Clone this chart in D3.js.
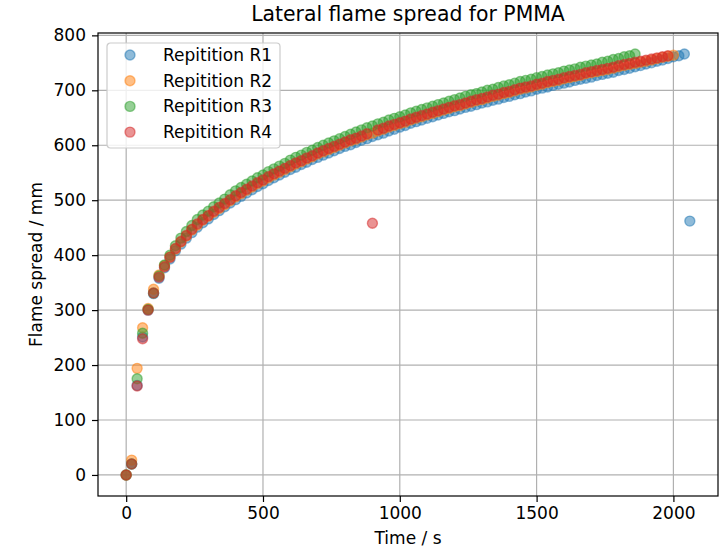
<!DOCTYPE html>
<html>
  <head>
    <meta charset="utf-8" />
    <title>Lateral flame spread for PMMA</title>
    <script src="https://cdn.jsdelivr.net/npm/d3@7"></script>
    <style type="text/css">
      body { margin: 0; background: #fff; }
      svg { font-family: "DejaVu Sans", sans-serif; }
      .tick text { font-size: 17px; fill: #000; }
    </style>
  </head>

  <body>
    <svg id="chart" width="719" height="548"></svg>
    <script type="text/javascript">
      // sample times (s), shared by all repetitions
      var timeS = [0, 20, 40, 60, 80, 100, 120, 140, 160, 180,
        200, 220, 240, 260, 280, 300, 320, 340, 360, 380,
        400, 420, 440, 460, 480, 500, 520, 540, 560, 580,
        600, 620, 640, 660, 680, 700, 720, 740, 760, 780,
        800, 820, 840, 860, 880, 900, 920, 940, 960, 980,
        1000, 1020, 1040, 1060, 1080, 1100, 1120, 1140, 1160, 1180,
        1200, 1220, 1240, 1260, 1280, 1300, 1320, 1340, 1360, 1380,
        1400, 1420, 1440, 1460, 1480, 1500, 1520, 1540, 1560, 1580,
        1600, 1620, 1640, 1660, 1680, 1700, 1720, 1740, 1760, 1780,
        1800, 1820, 1840, 1860, 1880, 1900, 1920, 1940, 1960, 1980,
        2000, 2020, 2040, 2060];

      // flame spread (mm) per repetition
      var spreadR1 = [0, 20, 163, 251, 300, 330, 358, 377, 393, 408,
        420, 431, 441, 451, 459, 466, 474, 481, 488, 495,
        501, 507, 513, 519, 525, 530, 536, 541, 546, 551,
        556, 560, 565, 569, 574, 578, 582, 586, 590, 594,
        598, 601, 605, 609, 612, 616, 619, 622, 626, 629,
        633, 636, 640, 643, 646, 649, 652, 655, 658, 661,
        663, 666, 669, 671, 674, 677, 679, 682, 684, 687,
        689, 692, 694, 697, 699, 702, 704, 706, 709, 711,
        713, 715, 718, 720, 722, 724, 727, 729, 731, 733,
        736, 738, 740, 743, 745, 748, 750, 753, 755, 758,
        761, 763, 766, 462];
      var spreadR2 = [0, 27, 194, 268, 303, 338, 364, 381, 397, 411,
        424, 435, 446, 455, 464, 471, 478, 485, 492, 499,
        506, 512, 518, 524, 530, 535, 541, 546, 551, 556,
        561, 566, 570, 575, 579, 584, 588, 592, 596, 600,
        604, 608, 611, 615, 619, 622, 626, 629, 633, 636,
        639, 642, 646, 649, 652, 655, 658, 661, 664, 667,
        670, 672, 675, 678, 681, 683, 686, 689, 691, 694,
        696, 699, 702, 704, 706, 709, 711, 714, 716, 718,
        721, 723, 725, 727, 730, 732, 734, 736, 738, 740,
        743, 745, 747, 749, 751, 753, 755, 758, 760, 762,
        764];
      var spreadR3 = [0, 20, 175, 258, 301, 331, 362, 382, 400, 417,
        431, 443, 454, 465, 473, 480, 488, 495, 502, 510,
        517, 523, 529, 535, 541, 546, 552, 557, 562, 567,
        573, 578, 582, 587, 591, 596, 600, 604, 608, 612,
        616, 620, 624, 628, 632, 635, 639, 642, 646, 649,
        652, 655, 659, 662, 665, 668, 671, 674, 677, 680,
        683, 686, 689, 692, 694, 697, 700, 702, 705, 708,
        710, 713, 716, 718, 720, 723, 725, 728, 730, 732,
        735, 737, 739, 742, 744, 746, 748, 751, 753, 756,
        758, 761, 763, 766];
      var spreadR4 = [0, 20, 162, 248, 300, 331, 360, 379, 396, 412,
        425, 436, 447, 457, 465, 472, 480, 487, 494, 501,
        508, 514, 520, 526, 532, 537, 543, 548, 553, 558,
        563, 568, 572, 577, 581, 586, 590, 594, 598, 602,
        606, 610, 613, 617, 621, 458, 628, 631, 635, 638,
        641, 644, 648, 651, 654, 657, 660, 663, 666, 669,
        672, 674, 677, 680, 683, 685, 688, 691, 693, 696,
        698, 701, 704, 706, 708, 711, 713, 716, 718, 720,
        723, 725, 727, 729, 732, 734, 736, 738, 740, 742,
        745, 747, 749, 751, 753, 755, 757, 759, 761, 763];

      var seriesNames = ['Repitition R1', 'Repitition R2', 'Repitition R3', 'Repitition R4'];
      var seriesColors = ['#1f77b4', '#ff7f0e', '#2ca02c', '#d62728'];
      var xTicks = [0, 500, 1000, 1500, 2000];
      var yTicks = [0, 100, 200, 300, 400, 500, 600, 700, 800];

      var series = [spreadR1, spreadR2, spreadR3, spreadR4].map(function (vals, k) {
        return {
          name: seriesNames[k],
          color: seriesColors[k],
          pts: vals.map(function (v, i) { return [timeS[i], v]; }),
        };
      });

      // plot area (px)
      var pL = 98, pR = 718, pT = 33, pB = 496;
      var allPts = d3.merge(series.map((s) => s.pts));

      // matplotlib-like 5% margins
      var xe = d3.extent(allPts, (d) => d[0]), ye = d3.extent(allPts, (d) => d[1]);
      var xm = (xe[1] - xe[0]) * 0.05, ym = (ye[1] - ye[0]) * 0.05;
      var x = d3.scaleLinear().domain([xe[0] - xm, xe[1] + xm]).range([pL, pR]);
      var y = d3.scaleLinear().domain([ye[0] - ym, ye[1] + ym]).range([pB, pT]);

      var svg = d3.select('#chart');

      // grid
      var grid = svg.append('g').attr('stroke', '#b0b0b0').attr('stroke-width', 1.2);
      grid.selectAll('.gx').data(xTicks).enter().append('line')
        .attr('x1', (d) => x(d)).attr('x2', (d) => x(d))
        .attr('y1', pT).attr('y2', pB);
      grid.selectAll('.gy').data(yTicks).enter().append('line')
        .attr('x1', pL).attr('x2', pR)
        .attr('y1', (d) => y(d)).attr('y2', (d) => y(d));

      // markers
      series.forEach(function (s) {
        svg.append('g').selectAll('circle').data(s.pts).enter().append('circle')
          .attr('cx', (d) => x(d[0]))
          .attr('cy', (d) => y(d[1]))
          .attr('r', 5)
          .attr('fill', s.color).attr('fill-opacity', 0.5)
          .attr('stroke', s.color).attr('stroke-opacity', 0.5)
          .attr('stroke-width', 1.4);
      });

      // frame
      svg.append('rect')
        .attr('x', pL).attr('y', pT)
        .attr('width', pR - pL).attr('height', pB - pT)
        .attr('fill', 'none').attr('stroke', '#000').attr('stroke-width', 1.2);

      // axes
      var xAxis = svg.append('g').attr('transform', 'translate(0,' + pB + ')')
        .call(d3.axisBottom(x).tickValues(xTicks).tickFormat(d3.format('d'))
          .tickSize(6).tickPadding(5).tickSizeOuter(0));
      var yAxis = svg.append('g').attr('transform', 'translate(' + pL + ',0)')
        .call(d3.axisLeft(y).tickValues(yTicks).tickFormat(d3.format('d'))
          .tickSize(6).tickPadding(6).tickSizeOuter(0));
      [xAxis, yAxis].forEach(function (a) {
        a.select('.domain').remove();
        a.selectAll('.tick line').attr('stroke', '#000').attr('stroke-width', 1.2);
        a.attr('font-family', null).attr('font-size', null);
      });

      // titles
      svg.append('text')
        .attr('x', (pL + pR) / 2).attr('y', 21)
        .attr('text-anchor', 'middle').attr('font-size', 20.4)
        .text('Lateral flame spread for PMMA');
      svg.append('text')
        .attr('x', (pL + pR) / 2).attr('y', 544)
        .attr('text-anchor', 'middle').attr('font-size', 17)
        .text('Time / s');
      svg.append('text')
        .attr('transform', 'translate(42,' + (pT + pB) / 2 + ') rotate(-90)')
        .attr('text-anchor', 'middle').attr('font-size', 17)
        .text('Flame spread / mm');

      // legend
      var lg = svg.append('g').attr('transform', 'translate(107,43)');
      lg.append('rect')
        .attr('width', 173).attr('height', 105).attr('rx', 3.5)
        .attr('fill', '#fff').attr('fill-opacity', 0.8)
        .attr('stroke', '#cccccc').attr('stroke-width', 1.2);
      var rows = lg.selectAll('.row').data(series).enter().append('g')
        .attr('transform', (d, i) => 'translate(0,' + (12 + i * 25.7) + ')');
      rows.append('circle')
        .attr('cx', 23).attr('cy', 0).attr('r', 5)
        .attr('fill', (d) => d.color).attr('fill-opacity', 0.5)
        .attr('stroke', (d) => d.color).attr('stroke-opacity', 0.5)
        .attr('stroke-width', 1.4);
      rows.append('text')
        .attr('x', 56).attr('y', 6).attr('font-size', 17)
        .text((d) => d.name);
    </script>
  </body>
</html>
